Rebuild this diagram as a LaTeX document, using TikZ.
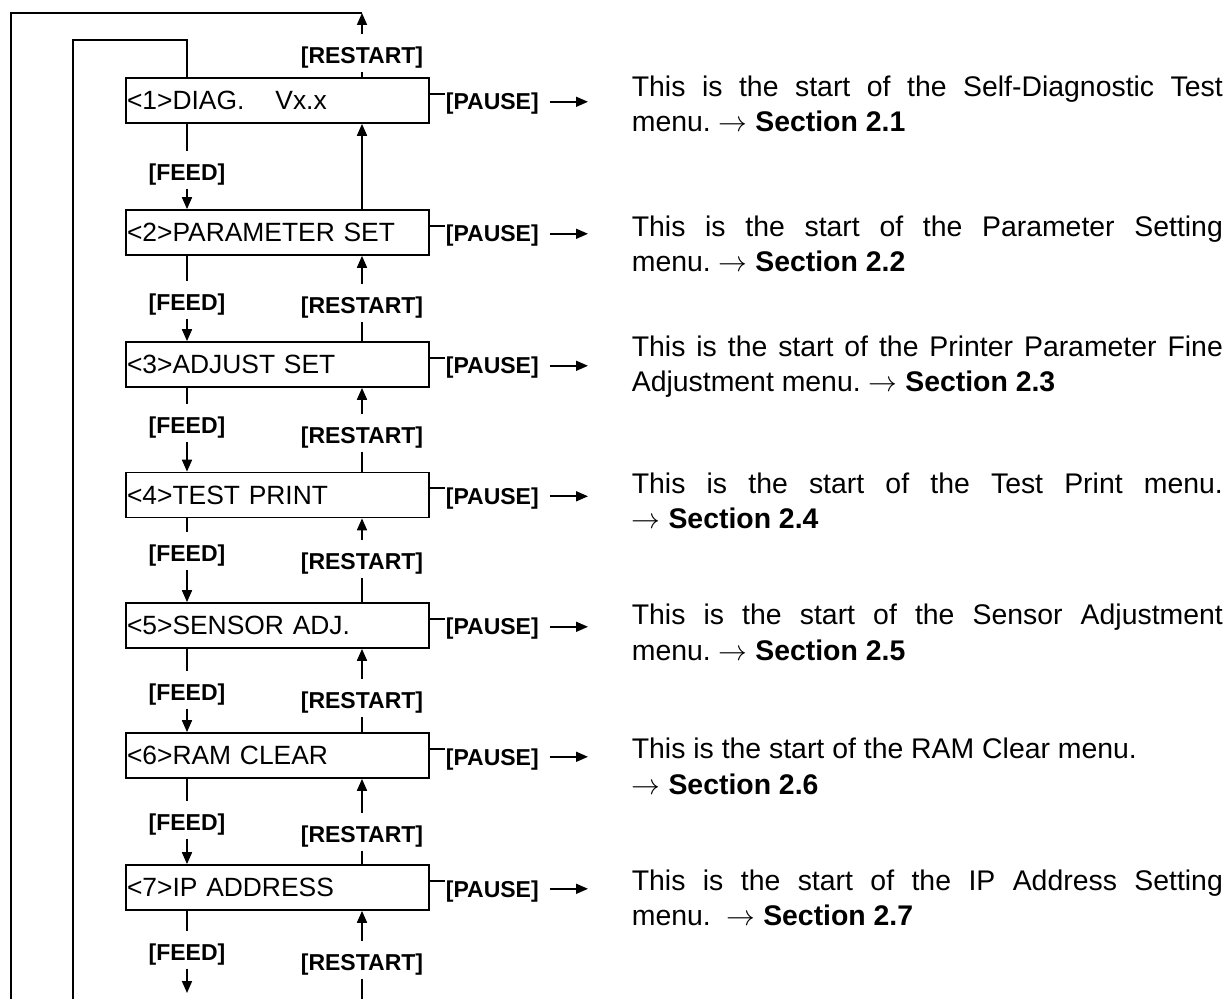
\documentclass[tikz,border=0pt]{standalone}
\usepackage{fontspec}
\setmainfont{Liberation Sans}
\usetikzlibrary{arrows.meta,calc}
\newcommand{\mydescfont}{\fontsize{14.2pt}{17.5pt}\selectfont\frenchspacing\hyphenpenalty=10000 \exhyphenpenalty=10000 \relax}
\newcommand{\mylabfont}{\fontsize{11.5pt}{13pt}\selectfont\bfseries}
\begin{document}
\begin{tikzpicture}[x=0.5pt,y=-0.5pt,line width=0.85pt,
  arr/.style={-{Triangle[length=6pt,width=5pt]}},
  box/.style={draw,minimum height=22.5pt,text width=150.5pt,inner xsep=0.5pt,inner ysep=0pt,align=left,font=\fontsize{13.2pt}{15pt}\selectfont},
  lab/.style={inner sep=0pt,anchor=base,text height=14.1pt,text depth=3.9pt,font=\mylabfont},
  plab/.style={inner sep=0pt,anchor=west,text height=8.2pt,text depth=0pt,font=\mylabfont},
  desc/.style={inner sep=0pt,anchor=base west,text width=295.5pt,align=justify,font=\mydescfont}
]
\fill[white] (0,0) rectangle (1232,999);
\useasboundingbox (0,0) rectangle (1232,999);

% boxes
\node[box] (b1) at (277.5,100.5) {<1>DIAG.\hspace{15.5pt}Vx.x};
\node[box] (b2) at (277.5,232.5) {<2>PARAMETER SET};
\node[box] (b3) at (277.5,364.5) {<3>ADJUST SET};
\node[box] (b4) at (277.5,495) {<4>TEST PRINT};
\node[box] (b5) at (277.5,625.5) {<5>SENSOR ADJ.};
\node[box] (b6) at (277.5,755.5) {<6>RAM CLEAR};
\node[box] (b7) at (277.5,887.5) {<7>IP ADDRESS};

% FEED labels
\node[lab] (f1) at (187,180.2) {[FEED]};
\node[lab] (f2) at (187,310.2) {[FEED]};
\node[lab] (f3) at (187,433.2) {[FEED]};
\node[lab] (f4) at (187,561.2) {[FEED]};
\node[lab] (f5) at (187,700.2) {[FEED]};
\node[lab] (f6) at (187,830.2) {[FEED]};
\node[lab] (f7) at (187,960.2) {[FEED]};

% RESTART labels
\node[lab] (r1) at (362,63.2) {[RESTART]};
\node[lab] (r2) at (362,313.2) {[RESTART]};
\node[lab] (r3) at (362,443.2) {[RESTART]};
\node[lab] (r4) at (362,569.2) {[RESTART]};
\node[lab] (r5) at (362,708.2) {[RESTART]};
\node[lab] (r6) at (362,842.2) {[RESTART]};
\node[lab] (r7) at (362,970.2) {[RESTART]};

% PAUSE labels
\node[plab] (p1) at (445,101.8) {[PAUSE]};
\node[plab] (p2) at (445,233.8) {[PAUSE]};
\node[plab] (p3) at (445,365.8) {[PAUSE]};
\node[plab] (p4) at (445,496.3) {[PAUSE]};
\node[plab] (p5) at (445,626.8) {[PAUSE]};
\node[plab] (p6) at (445,756.8) {[PAUSE]};
\node[plab] (p7) at (445,888.8) {[PAUSE]};

% descriptions
\node[desc] (d1) at (631,97) {This is the start of the Self-Diagnostic Test\linebreak menu. $\rightarrow$ \textbf{Section 2.1}};
\node[desc] (d2) at (631,237) {This is the start of the Parameter Setting\linebreak menu. $\rightarrow$ \textbf{Section 2.2}};
\node[desc] (d3) at (631,357) {This is the start of the Printer Parameter Fine\linebreak Adjustment menu. $\rightarrow$ \textbf{Section 2.3}};
\node[desc] (d4) at (631,494) {This is the start of the Test Print menu.\linebreak $\rightarrow$ \textbf{Section 2.4}};
\node[desc] (d5) at (631,625) {This is the start of the Sensor Adjustment\linebreak menu. $\rightarrow$ \textbf{Section 2.5}};
\node[desc] (d6) at (631,759) {This is the start of the RAM Clear menu.\\ $\rightarrow$ \textbf{Section 2.6}};
\node[desc] (d7) at (631,890) {This is the start of the IP Address Setting\linebreak menu.\ \ $\rightarrow$ \textbf{Section 2.7}};

% free ends
\coordinate (top) at (362,13);
\coordinate (obot) at (11,999);
\coordinate (ibot) at (73,999);
\coordinate (ic) at (187,40);
\coordinate (fend) at (187,993);
\coordinate (rend) at (362,999);
\coordinate (T) at (588,0);

% outer and inner return lines
\draw (obot) |- (top);
\draw (ibot) |- (ic) -- (b1.north -| ic);

% top restart
\draw (b1.north -| r1) -- (r1.south);
\draw[arr] (r1.north) -- (top);
\draw[arr] (b2.north -| r1) -- (b1.south -| r1);

% FEED connectors
\foreach \k/\n in {1/2,2/3,3/4,4/5,5/6,6/7} {
  \draw (b\k.south -| f\k) -- (f\k.north);
  \draw[arr] (f\k.south) -- (b\n.north -| f\k);
}
\draw (b7.south -| f7) -- (f7.north);
\draw[arr] (f7.south) -- (fend);

% RESTART connectors
\foreach \k/\n in {2/3,3/4,4/5,5/6,6/7} {
  \draw[arr] (r\k.north) -- (b\k.south -| r\k);
  \draw (r\k.south) -- (b\n.north -| r\k);
}
\draw[arr] (r7.north) -- (b7.south -| r7);
\draw (r7.south) -- (rend);

% PAUSE connectors
\foreach \k in {1,...,7} {
  \draw ($(b\k.east)+(0,3.4pt)$) -- ($(p\k.west |- b\k.east)+(0,3.4pt)$);
  \draw[arr] ([xshift=5pt]p\k.east) -- (p\k.east -| T);
}
\end{tikzpicture}
\end{document}
